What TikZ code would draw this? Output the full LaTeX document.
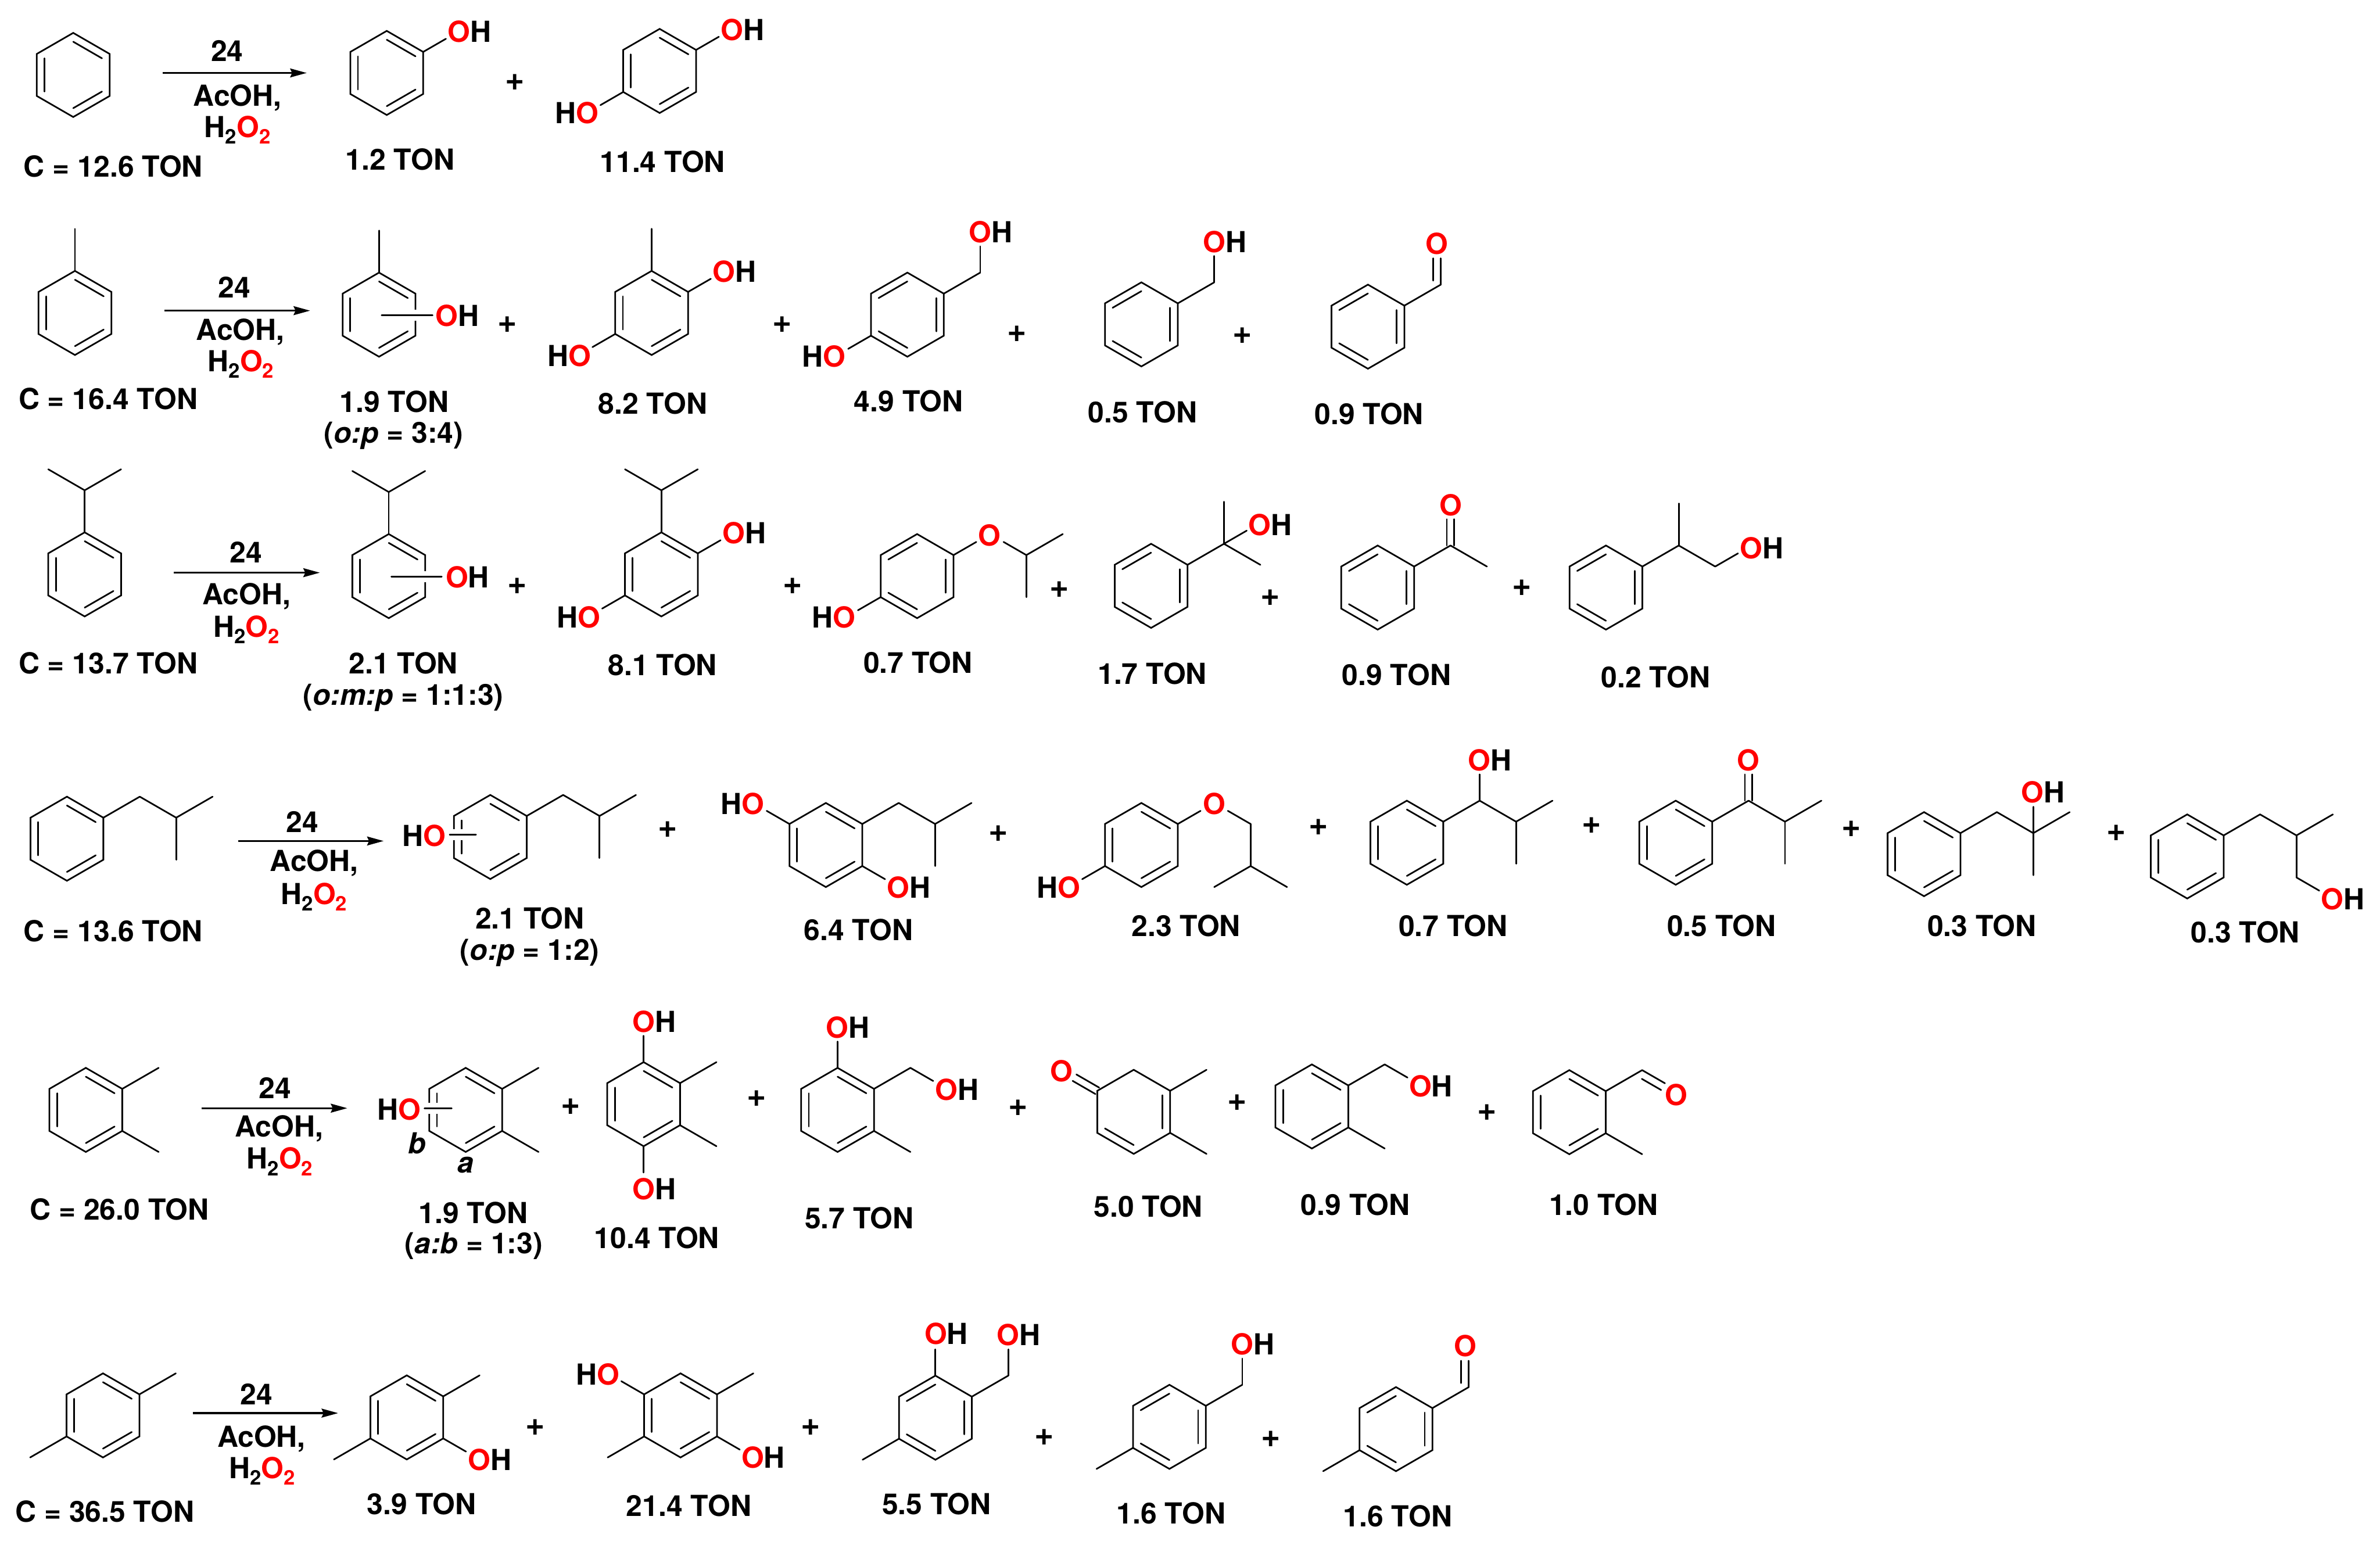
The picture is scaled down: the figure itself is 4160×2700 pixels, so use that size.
\documentclass[tikz,border=0pt]{standalone}
\usepackage{fontspec}
\setmainfont{TeX Gyre Heros}
\usetikzlibrary{calc,arrows.meta}
\tikzstyle{bondline}=[draw,line width=0.8pt,line cap=round]
\tikzstyle{halo}=[preaction={draw=white,line width=5.5pt,line cap=butt}]
\tikzstyle{rxnarrow}=[draw,line width=0.95pt,-{Stealth[length=8.2pt,width=4.4pt,inset=1pt]}]
\tikzstyle{tonlabel}=[anchor=base,inner sep=0pt,yshift=-0.4pt,font=\bfseries\fontsize{14.4}{16}\selectfont]
\tikzstyle{pluslabel}=[inner sep=0pt,font=\bfseries\fontsize{16.5}{18}\selectfont]

\def\bl{73.5}
\def\bs{46}
\newcommand{\labOH}{\textcolor{red}{O}H}
\newcommand{\labHO}{H\textcolor{red}{O}}
\newcommand{\labO}{\textcolor{red}{O}}
\newcommand{\subtwo}{\raisebox{-3.2pt}{\fontsize{10}{10}\selectfont 2}}
\newcommand{\labPer}{H\subtwo\textcolor{red}{O\subtwo}}
% ring: name, x, y, double bonds
\newcommand{\benzring}[4]{
  \coordinate (#1c) at (#2,#3);
  \foreach \ang/\idx in {-90/1,-30/2,30/3,90/4,150/5,210/6}
    \coordinate (#1\idx) at ($(#1c)+(\ang:\bl)$);
  \draw[bondline] (#11) -- (#12) -- (#13) -- (#14) -- (#15) -- (#16) -- cycle;
  \foreach \i/\j in {#4}
    \draw[bondline] ($(#1c)!0.79!(#1\i)$) -- ($(#1c)!0.79!(#1\j)$);
}
\newcommand{\ringA}[3]{\benzring{#1}{#2}{#3}{1/2,3/4,5/6}}
\newcommand{\ringB}[3]{\benzring{#1}{#2}{#3}{6/1,2/3,4/5}}
% bond: from, angle, length, name of the end
\newcommand{\bondto}[4]{
  \coordinate (#4) at ($(#1)+(#2:#3)$);
  \draw[bondline] (#1) -- (#4);
}
% double bond, both lines off the axis: from, angle, length, name of the end
\newcommand{\dbond}[4]{
  \coordinate (#4) at ($(#1)+(#2:#3)$);
  \draw[bondline] ($(#1)+(#2+90:6.5)$) -- ($(#4)+(#2+90:6.5)$);
  \draw[bondline] ($(#1)+(#2+90:-6.5)$) -- ($(#4)+(#2+90:-6.5)$);
}
% double bond, second line to one side: from, angle, length, name of the end, offset
\newcommand{\dbondside}[5]{
  \bondto{#1}{#2}{#3}{#4}
  \draw[bondline,shorten <=2pt] ($(#1)+(#2+90:#5)$) -- ($(#4)+(#2+90:#5)$);
}
% isopropyl end of a chain
\newcommand{\forkup}[2]{
  \bondto{#1}{-150}{\bl}{#2l}
  \bondto{#1}{-30}{\bl}{#2r}
}

\begin{document}
\begin{tikzpicture}[x=0.01cm,y=-0.01cm]

\useasboundingbox (0,0) rectangle (4160,2700);
\fill[white] (0,0) rectangle (4160,2700);

%row 1
\ringA{aa}{128}{131}
\ringA{ab}{676}{127.5}
\bondto{ab2}{-30}{\bs}{abo}
\ringA{ac}{1153}{124}
\bondto{ac2}{-30}{\bs}{aco}
\bondto{ac5}{150}{\bs}{acp}
\coordinate (arra) at (284,127.5);
\coordinate (arrb) at (536,127.5);
\draw[rxnarrow] (arra) -- (arrb);
\foreach \pos/\name/\txt in {{(397,106)/tcat/24},{(415,184)/tsol/AcOH,},{(415,239)/tper/\labPer},
    {(198,308)/tsub/C = 12.6 TON},{(821,72.5)/tab/\labOH},{(1298,69)/tac/\labOH},{(1008,214)/tad/\labHO},
    {(699,296)/ton1/1.2 TON},{(1158,300)/ton2/11.4 TON}}
    \node[tonlabel] (\name) at \pos {\txt};
\node[pluslabel] (pa) at (900,144) {+};

%row 2
\ringA{ba}{131}{547}
\bondto{ba1}{-90}{\bl}{bam}
\ringA{bb}{662.5}{550}
\bondto{bb1}{-90}{\bl}{bbm}
\coordinate (bbf) at (667,551);
\coordinate (bbg) at (756,551);
\draw[bondline,halo] (bbf) -- (bbg);
\ringA{bc}{1139}{547}
\bondto{bc1}{-90}{\bl}{bcm}
\bondto{bc2}{-30}{\bs}{bco}
\bondto{bc5}{150}{\bs}{bcp}
\ringB{bd}{1586}{550}
\bondto{bd2}{-30}{\bl}{bdk}
\bondto{bdk}{-90}{\bs}{bdo}
\bondto{bd5}{150}{\bs}{bdp}
\ringB{be}{1995}{567}
\bondto{be2}{-30}{\bl}{bek}
\bondto{bek}{-90}{\bs}{beo}
\ringB{bf}{2391}{571}
\bondto{bf2}{-30}{\bl}{bfk}
\dbondside{bfk}{-90}{\bs}{bfo}{-13.5}
\coordinate (arrc) at (287,543);
\coordinate (arrd) at (542,543);
\draw[rxnarrow] (arrc) -- (arrd);
\foreach \pos/\name/\txt in {{(410,519)/tcat/24},{(420,593)/tsol/AcOH,},{(421,648)/tper/\labPer},
    {(189,714)/tsub/C = 16.4 TON},{(799,569)/tbb/\labOH},{(1284,492)/tbc/\labOH},{(995,639)/tbd/\labHO},
    {(1732,423)/tbe/\labOH},{(1440,640)/tbf/\labHO},{(2141,440)/tbg/\labOH},{(2512,443)/tbh/\labO},
    {(689,719)/ton1/1.9 TON},{(688,773)/rat/(\textit{o:p} = 3:4)},{(1141,722)/ton2/8.2 TON},
    {(1588,718.5)/ton3/4.9 TON},{(1997,737.5)/ton4/0.5 TON},{(2393,740)/ton5/0.9 TON}}
    \node[tonlabel] (\name) at \pos {\txt};
\foreach \pos/\name in {{(887,567)/pa},{(1367,567)/pb},{(1778,584)/pc},{(2172,587)/pd}}
    \node[pluslabel] (\name) at \pos {+};

%row 3
\ringA{ca}{148}{1004}
\bondto{ca1}{-90}{\bl}{cak}
\forkup{cak}{cam}
\ringA{cb}{679.5}{1007}
\bondto{cb1}{-90}{\bl}{cbk}
\forkup{cbk}{cbm}
\coordinate (cbf) at (684,1008);
\coordinate (cbg) at (772,1008);
\draw[bondline,halo] (cbf) -- (cbg);
\ringA{cc}{1156}{1004}
\bondto{cc1}{-90}{\bl}{cck}
\forkup{cck}{ccm}
\bondto{cc2}{-30}{\bs}{cco}
\bondto{cc5}{150}{\bs}{ccp}
\ringB{cd}{1603}{1007}
\bondto{cd2}{-30}{\bs}{cdo}
\bondto{cd5}{150}{\bs}{cdp}
\coordinate (cdk) at ($(cd2)+(-30:\bl)+(30:\bl)$);
\bondto{cdk}{-150}{\bs}{cdq}
\bondto{cdk}{-30}{\bl}{cdr}
\bondto{cdk}{90}{\bl}{cds}
\ringB{ce}{2012}{1024}
\bondto{ce2}{-30}{\bl}{cek}
\bondto{cek}{-90}{\bl}{cem}
\bondto{cek}{30}{\bl}{cen}
\bondto{cek}{-30}{\bs}{ceo}
\ringB{cf}{2408}{1027}
\bondto{cf2}{-30}{\bl}{cfk}
\bondto{cfk}{30}{\bl}{cfm}
\dbond{cfk}{-90}{\bs}{cfo}
\ringB{cg}{2807}{1027}
\bondto{cg2}{-30}{\bl}{cgk}
\bondto{cgk}{-90}{\bl}{cgm}
\bondto{cgk}{30}{\bl}{cgn}
\bondto{cgn}{-30}{\bs}{cgo}
\coordinate (arre) at (304,1001);
\coordinate (arrf) at (559,1001);
\draw[rxnarrow] (arre) -- (arrf);
\foreach \pos/\name/\txt in {{(430,982)/tcat/24},{(431,1055.5)/tsol/AcOH,},{(431,1112)/tper/\labPer},
    {(189,1176)/tsub/C = 13.7 TON},{(817,1026)/tcb/\labOH},{(1301,949)/tcc/\labOH},{(1011,1096)/tcd/\labHO},
    {(1729.5,953)/tce/\labO},{(1457,1096)/tcf/\labHO},{(2220.5,934)/tcg/\labOH},{(2536,900)/tch/\labO},
    {(3079,975)/tci/\labOH},
    {(705,1176)/ton1/2.1 TON},{(705,1231)/rat/(\textit{o:m:p} = 1:1:3)},{(1158,1179)/ton2/8.1 TON},
    {(1604.5,1175.5)/ton3/0.7 TON},{(2014,1194)/ton4/1.7 TON},{(2441,1197)/ton5/0.9 TON},{(2894,1201)/ton6/0.2 TON}}
    \node[tonlabel] (\name) at \pos {\txt};
\foreach \pos/\name in {{(904,1024)/pa},{(1385,1024)/pb},{(1852,1031)/pc},{(2220,1045)/pd},{(2660,1028)/pe}}
    \node[pluslabel] (\name) at \pos {+};

%row 4
\ringA{da}{117}{1466}
\bondto{da2}{-30}{\bl}{dak}
\bondto{dak}{30}{\bl}{dal}
\bondto{dal}{-30}{\bl}{dam}
\bondto{dal}{90}{\bl}{dan}
\ringA{db}{857}{1463}
\bondto{db2}{-30}{\bl}{dbk}
\bondto{dbk}{30}{\bl}{dbl}
\bondto{dbl}{-30}{\bl}{dbm}
\bondto{dbl}{90}{\bl}{dbn}
\coordinate (dbf) at (786,1459);
\coordinate (dbg) at (832,1459);
\draw[bondline,halo] (dbf) -- (dbg);
\ringA{dc}{1443.5}{1477}
\bondto{dc2}{-30}{\bl}{dck}
\bondto{dck}{30}{\bl}{dcl}
\bondto{dcl}{-30}{\bl}{dcm}
\bondto{dcl}{90}{\bl}{dcn}
\bondto{dc6}{-150}{\bs}{dco}
\bondto{dc3}{30}{\bs}{dcp}
\ringA{dd}{1995}{1477}
\bondto{dd2}{-30}{\bs}{ddo}
\bondto{dd5}{150}{\bs}{ddp}
\coordinate (ddk) at ($(dd2)+(-30:\bl)+(30:\bl)$);
\bondto{ddk}{-150}{\bs}{ddq}
\bondto{ddk}{90}{\bl}{ddl}
\bondto{ddl}{150}{\bl}{ddm}
\bondto{ddl}{30}{\bl}{ddn}
\ringA{de}{2459}{1473}
\bondto{de2}{-30}{\bl}{dek}
\bondto{dek}{-90}{\bs}{deo}
\bondto{dek}{30}{\bl}{del}
\bondto{del}{-30}{\bl}{dem}
\bondto{del}{90}{\bl}{den}
\ringA{df}{2929}{1473}
\bondto{df2}{-30}{\bl}{dfk}
\dbond{dfk}{-90}{\bs}{dfo}
\bondto{dfk}{30}{\bl}{dfl}
\bondto{dfl}{-30}{\bl}{dfm}
\bondto{dfl}{90}{\bl}{dfn}
\ringA{dg}{3363}{1493}
\bondto{dg2}{-30}{\bl}{dgk}
\bondto{dgk}{30}{\bl}{dgl}
\bondto{dgl}{-30}{\bl}{dgm}
\bondto{dgl}{90}{\bl}{dgn}
\bondto{dgl}{-90}{\bs}{dgo}
\ringA{dh}{3823}{1497}
\bondto{dh2}{-30}{\bl}{dhk}
\bondto{dhk}{30}{\bl}{dhl}
\bondto{dhl}{-30}{\bl}{dhm}
\bondto{dhl}{90}{\bl}{dhn}
\bondto{dhn}{30}{\bs}{dho}
\coordinate (arrg) at (416,1470);
\coordinate (arrh) at (670.5,1470);
\draw[rxnarrow] (arrg) -- (arrh);
\foreach \pos/\name/\txt in {{(528.6,1453)/tcat/24},{(549,1522)/tsol/AcOH,},{(549,1579)/tper/\labPer},
    {(198,1644)/tsub/C = 13.6 TON},{(741,1477.5)/tdb/\labHO},{(1298,1422)/tdc/\labHO},{(1588.5,1568)/tdd/\labOH},
    {(2122.5,1422)/tde/\labO},{(1850,1568)/tdf/\labHO},{(2604,1346)/tdg/\labOH},{(3055.6,1346)/tdh/\labO},
    {(3571,1402)/tdi/\labOH},{(4095,1589)/tdj/\labOH},
    {(926,1622)/ton1/2.1 TON},{(926,1677)/rat/(\textit{o:p} = 1:2)},{(1500.5,1642)/ton2/6.4 TON},
    {(2073,1635)/ton3/2.3 TON},{(2540,1635)/ton4/0.7 TON},{(3009,1635)/ton5/0.5 TON},
    {(3464,1635)/ton6/0.3 TON},{(3924.5,1646)/ton7/0.3 TON}}
    \node[tonlabel] (\name) at \pos {\txt};
\foreach \pos/\name in {{(1167,1450)/pa},{(1745.5,1457)/pb},{(2305,1446)/pc},{(2782,1443)/pd},{(3236,1449)/pe},{(3699,1456)/pf}}
    \node[pluslabel] (\name) at \pos {+};

%row 5
\ringA{ea}{150}{1940}
\bondto{ea2}{-30}{\bl}{eam}
\bondto{ea3}{30}{\bl}{ean}
\ringA{eb}{814}{1940}
\bondto{eb2}{-30}{\bl}{ebm}
\bondto{eb3}{30}{\bl}{ebn}
\coordinate (ebf) at (742,1937);
\coordinate (ebg) at (789.5,1937);
\draw[bondline,halo] (ebf) -- (ebg);
\ringA{ec}{1125}{1930}
\bondto{ec2}{-30}{\bl}{ecm}
\bondto{ec3}{30}{\bl}{ecn}
\bondto{ec1}{-90}{\bs}{eco}
\bondto{ec4}{90}{\bs}{ecp}
\ringA{ed}{1464}{1940}
\bondto{ed1}{-90}{\bs}{edo}
\bondto{ed2}{-30}{\bl}{edk}
\bondto{edk}{30}{\bs}{edp}
\bondto{ed3}{30}{\bl}{edm}
\benzring{ee}{1981.6}{1943.4}{2/3,4/5}
\dbond{ee6}{-150}{\bs}{eeo}
\bondto{ee2}{-30}{\bl}{eem}
\bondto{ee3}{30}{\bl}{een}
\ringA{ef}{2293}{1934}
\bondto{ef2}{-30}{\bl}{efk}
\bondto{efk}{30}{\bs}{efo}
\bondto{ef3}{30}{\bl}{efm}
\ringA{eg}{2743}{1944}
\bondto{eg2}{-30}{\bl}{egk}
\dbondside{egk}{30}{\bs}{ego}{13.5}
\bondto{eg3}{30}{\bl}{egm}
\coordinate (arri) at (352,1937);
\coordinate (arrj) at (607,1937);
\draw[rxnarrow] (arri) -- (arrj);
\foreach \pos/\name/\txt in {{(481,1919)/tcat/24},{(488,1986)/tsol/AcOH,},{(489,2042)/tper/\labPer},
    {(208.6,2131)/tsub/C = 26.0 TON},{(698,1956)/teb/\labHO},{(729,2015)/tib/\textit{b}},{(814,2049)/tia/\textit{a}},
    {(1143.5,1803)/tec/\labOH},{(1143.5,2095)/ted/\labOH},{(1482,1812.5)/tee/\labOH},{(1672.5,1922)/tef/\labOH},
    {(1855,1889)/teg/\labO},{(2501,1916)/teh/\labOH},{(2930,1931)/tei/\labO},
    {(827,2137)/ton1/1.9 TON},{(828,2190)/rat/(\textit{a:b} = 1:3)},{(1148,2181)/ton2/10.4 TON},
    {(1502,2146)/ton3/5.7 TON},{(2007,2126)/ton4/5.0 TON},{(2369,2123)/ton5/0.9 TON},{(2803,2123)/ton6/1.0 TON}}
    \node[tonlabel] (\name) at \pos {\txt};
\foreach \pos/\name in {{(998,1934)/pa},{(1323,1920)/pb},{(1780,1937)/pc},{(2162,1927.5)/pd},{(2599,1945)/pe}}
    \node[pluslabel] (\name) at \pos {+};

%row 6
\ringA{fa}{180}{2474}
\bondto{fa2}{-30}{\bl}{fam}
\bondto{fa5}{150}{\bl}{fan}
\ringA{fb}{711}{2477.5}
\bondto{fb2}{-30}{\bl}{fbm}
\bondto{fb5}{150}{\bl}{fbn}
\bondto{fb3}{30}{\bs}{fbo}
\ringA{fc}{1189.5}{2474}
\bondto{fc2}{-30}{\bl}{fcm}
\bondto{fc5}{150}{\bl}{fcn}
\bondto{fc6}{-150}{\bs}{fco}
\bondto{fc3}{30}{\bs}{fcp}
\ringB{fd}{1635}{2478}
\bondto{fd1}{-90}{\bs}{fdo}
\bondto{fd2}{-30}{\bl}{fdk}
\bondto{fdk}{-90}{\bs}{fdp}
\bondto{fd5}{150}{\bl}{fdm}
\ringB{fe}{2044}{2494}
\bondto{fe2}{-30}{\bl}{fek}
\bondto{fek}{-90}{\bs}{feo}
\bondto{fe5}{150}{\bl}{fem}
\ringB{ff}{2440}{2498}
\bondto{ff2}{-30}{\bl}{ffk}
\dbondside{ffk}{-90}{\bs}{ffo}{-13.5}
\bondto{ff5}{150}{\bl}{ffm}
\coordinate (arrk) at (337,2470);
\coordinate (arrl) at (591,2470);
\draw[rxnarrow] (arrk) -- (arrl);
\foreach \pos/\name/\txt in {{(448,2454)/tcat/24},{(457,2527.5)/tsol/AcOH,},{(458,2582.5)/tper/\labPer},
    {(183,2659)/tsub/C = 36.5 TON},{(856.5,2569)/tfb/\labOH},{(1045,2419)/tfc/\labHO},{(1334,2565)/tfd/\labOH},
    {(1654,2348)/tfe/\labOH},{(1780,2350)/tff/\labOH},{(2190,2367)/tfg/\labOH},{(2561,2370)/tfh/\labO},
    {(737,2646)/ton1/3.9 TON},{(1204,2649)/ton2/21.4 TON},{(1637,2646)/ton3/5.5 TON},
    {(2047,2662.5)/ton4/1.6 TON},{(2443,2667)/ton5/1.6 TON}}
    \node[tonlabel] (\name) at \pos {\txt};
\foreach \pos/\name in {{(936,2495)/pa},{(1417,2495)/pb},{(1825.5,2512)/pc},{(2221,2515)/pd}}
    \node[pluslabel] (\name) at \pos {+};

\end{tikzpicture}
\end{document}
